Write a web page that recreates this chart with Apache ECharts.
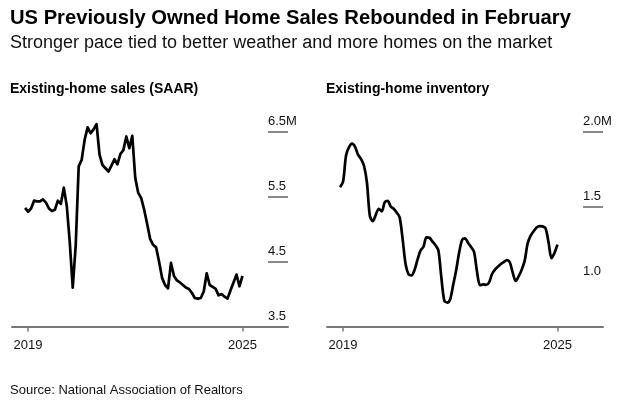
<!DOCTYPE html>
<html><head><meta charset="utf-8">
<script src="https://cdn.jsdelivr.net/npm/echarts@6/dist/echarts.min.js"></script>
<style>html,body{margin:0;padding:0;background:#fff}#c{width:637px;height:412px}</style>
</head><body><div id="c"></div>
<script>
// Monthly data, Jan 2019 .. Feb 2025 (millions)
const months = ['2019-01','2019-02','2019-03','2019-04','2019-05','2019-06','2019-07','2019-08','2019-09','2019-10','2019-11','2019-12',
'2020-01','2020-02','2020-03','2020-04','2020-05','2020-06','2020-07','2020-08','2020-09','2020-10','2020-11','2020-12',
'2021-01','2021-02','2021-03','2021-04','2021-05','2021-06','2021-07','2021-08','2021-09','2021-10','2021-11','2021-12',
'2022-01','2022-02','2022-03','2022-04','2022-05','2022-06','2022-07','2022-08','2022-09','2022-10','2022-11','2022-12',
'2023-01','2023-02','2023-03','2023-04','2023-05','2023-06','2023-07','2023-08','2023-09','2023-10','2023-11','2023-12',
'2024-01','2024-02','2024-03','2024-04','2024-05','2024-06','2024-07','2024-08','2024-09','2024-10','2024-11','2024-12',
'2025-01','2025-02'];
const salesValues = [5.33,5.27,5.32,5.44,5.43,5.43,5.46,5.41,5.32,5.28,5.30,5.44,5.39,5.64,
5.36,4.80,4.10,4.75,5.97,6.07,6.38,6.57,6.48,6.54,6.62,6.15,5.99,5.94,5.89,5.98,6.08,6.00,6.16,6.22,6.43,6.25,6.44,
5.79,5.56,5.48,5.30,5.08,4.85,4.76,4.72,4.50,4.25,4.14,4.09,4.48,4.28,4.21,4.18,4.14,4.10,4.08,4.02,3.94,3.93,3.94,
4.04,4.32,4.14,4.11,4.08,3.98,4.00,3.96,3.93,4.06,4.18,4.30,4.12,4.28];
const inventoryValues = [1.631,1.669,1.843,1.898,1.922,1.902,1.849,1.820,1.776,1.664,1.438,1.404,1.447,1.487,1.469,1.531,
1.540,1.502,1.487,1.462,1.429,1.284,1.116,1.049,1.042,1.078,1.147,1.207,1.233,1.296,1.293,1.269,1.244,1.209,1.029,0.873,
0.860,0.884,0.980,1.078,1.196,1.280,1.289,1.258,1.231,1.198,1.064,0.976,0.982,0.978,0.993,1.049,1.080,1.100,1.118,1.131,
1.144,1.129,1.058,1.004,1.036,1.080,1.140,1.256,1.307,1.336,1.362,1.371,1.369,1.356,1.264,1.156,1.191,1.247];
const xTickMonths = ['2019-01','2025-01'];
const xTickLabels = ['2019','2025'];
const salesLabelValues = [3.5,4.5,5.5,6.5];
const salesLabelTexts = ['3.5','4.5','5.5','6.5M'];
const salesGridValues = [4.5,5.5,6.5];
const invLabelValues = [1.0,1.5,2.0];
const invLabelTexts = ['1.0','1.5','2.0M'];
const invGridValues = [1.5,2.0];

const FONT = '"Liberation Sans", Arial, Helvetica, sans-serif';
const monthIdx = m => months.indexOf(m);
// each monthly value is plotted at the end of the previous month (as in the source chart)
const plotX = m => monthIdx(m) - 1;
const xTickValues = xTickMonths.map(monthIdx);

function xAxisFor(gi) {
  return {
    gridIndex: gi, type: 'value', min: -5.4, max: 87.3,
    splitLine: {show: false},
    axisLine: {show: true, onZero: false, lineStyle: {color: '#777', width: 2}},
    axisTick: {show: true, customValues: xTickValues, length: 5, lineStyle: {color: '#777', width: 1.5}},
    axisLabel: {customValues: xTickValues, margin: 12, fontSize: 13, color: '#111', fontFamily: FONT,
      formatter: v => xTickLabels[xTickValues.indexOf(Math.round(v))] || ''}
  };
}
function yAxisFor(gi, min, max, labVals, labTexts, gridVals) {
  return {
    gridIndex: gi, type: 'value', position: 'right', min: min, max: max,
    splitLine: {show: false},
    axisLine: {show: false, onZero: false},
    axisTick: {show: true, inside: true, length: 20, customValues: gridVals, lineStyle: {color: '#888', width: 2}},
    axisLabel: {inside: true, customValues: labVals, align: 'left', margin: 20, verticalAlign: 'bottom',
      padding: [0, 0, 4, 0], fontSize: 13, color: '#111', fontFamily: FONT,
      formatter: v => { const k = labVals.findIndex(t => Math.abs(t - v) < 1e-6); return k >= 0 ? labTexts[k] : ''; }}
  };
}
const chart = echarts.init(document.getElementById('c'), null, {renderer: 'canvas'});
chart.setOption({
  animation: false,
  backgroundColor: '#fff',
  title: [
    {text: 'US Previously Owned Home Sales Rebounded in February', left: 10, top: 8, padding: 0,
      textStyle: {fontSize: 20.2, fontWeight: 'bold', color: '#000', fontFamily: FONT}},
    {text: 'Stronger pace tied to better weather and more homes on the market', left: 10, top: 34, padding: 0,
      textStyle: {fontSize: 18, fontWeight: 'normal', color: '#111', fontFamily: FONT}},
    {text: 'Existing-home sales (SAAR)', left: 10, top: 82, padding: 0,
      textStyle: {fontSize: 14, fontWeight: 'bold', color: '#000', fontFamily: FONT}},
    {text: 'Existing-home inventory', left: 326, top: 82, padding: 0,
      textStyle: {fontSize: 14, fontWeight: 'bold', color: '#000', fontFamily: FONT}},
    {text: 'Source: National Association of Realtors', left: 10, top: 384, padding: 0,
      textStyle: {fontSize: 13, fontWeight: 'normal', color: '#111', fontFamily: FONT}}
  ],
  grid: [
    {left: 12, top: 112.5, width: 276, height: 214},
    {left: 327, top: 112.5, width: 276, height: 214}
  ],
  xAxis: [xAxisFor(0), xAxisFor(1)],
  yAxis: [
    yAxisFor(0, 3.5, 6.8, salesLabelValues, salesLabelTexts, salesGridValues),
    yAxisFor(1, 0.7, 2.13, invLabelValues, invLabelTexts, invGridValues)
  ],
  series: [
    {type: 'line', xAxisIndex: 0, yAxisIndex: 0, showSymbol: false, clip: false,
      data: salesValues.map((v, i) => [plotX(months[i]), v]),
      lineStyle: {color: '#000', width: 2.7, join: 'round'}},
    {type: 'line', xAxisIndex: 1, yAxisIndex: 1, showSymbol: false, clip: false, smooth: 0.3,
      data: inventoryValues.map((v, i) => [plotX(months[i]), v]),
      lineStyle: {color: '#000', width: 2.7, join: 'round'}}
  ]
});
</script>
</body></html>
